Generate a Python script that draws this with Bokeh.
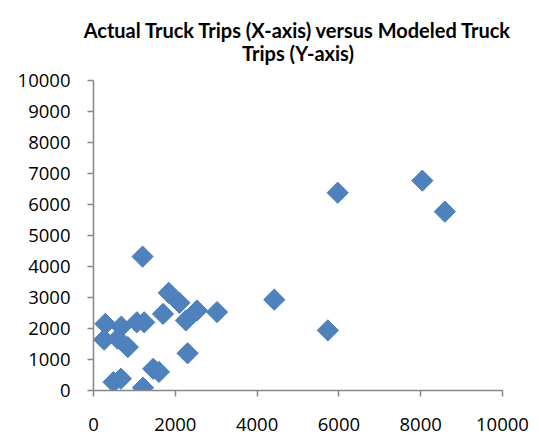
from bokeh.plotting import figure
from bokeh.models import FixedTicker, Range1d
from bokeh.embed import file_html
from bokeh.resources import INLINE
import math

actual_trips = [1200, 290, 260, 680, 590, 840, 1060, 1240, 1700, 1840, 2100, 2260,
                2300, 1460, 1600, 490, 670, 1210, 2530, 3020, 4420, 5730, 5970, 8040, 8590]
modeled_trips = [4320, 2150, 1640, 2060, 1670, 1400, 2200, 2200, 2470, 3150, 2830, 2260,
                 1200, 700, 600, 270, 380, 90, 2580, 2530, 2930, 1940, 6380, 6770, 5770]

tick_values = [0, 1000, 2000, 3000, 4000, 5000, 6000, 7000, 8000, 9000, 10000]
x_tick_values = [0, 2000, 4000, 6000, 8000, 10000]

title_text = "Actual Truck Trips (X-axis) versus Modeled Truck\nTrips (Y-axis)"

p = figure(output_backend="svg", toolbar_location=None,
           frame_width=409, frame_height=310,
           min_border_left=93, min_border_top=80, min_border_right=30, min_border_bottom=45,
           x_range=Range1d(0, 10000), y_range=Range1d(0, 10000),
           title=title_text)

p.title.align = "center"
p.title.text_align = "center"
p.title.vertical_align = "bottom"
p.title.text_font = "Lato"
p.title.text_font_style = "bold"
p.title.text_font_size = "20px"
p.title.text_color = "#000000"
p.title.text_line_height = 0.95
p.title.standoff = 31

xax = p.below[0]
yax = p.left[0]

p.scatter(actual_trips, modeled_trips, marker="square", size=15, angle=math.pi / 4,
          fill_color="#4F81BD", line_color="#4A7EBB", line_width=1)

p.outline_line_color = None
p.grid.visible = False
p.background_fill_color = "white"
p.border_fill_color = "white"

for ax in (xax, yax):
    ax.axis_line_color = "#868686"
    ax.axis_line_width = 1.5
    ax.major_tick_line_color = "#868686"
    ax.major_tick_line_width = 1.5
    ax.major_tick_in = 0
    ax.major_tick_out = 6
    ax.minor_tick_line_color = None
    ax.major_label_text_font = "Open Sans"
    ax.major_label_text_font_size = "18.5px"
    ax.major_label_text_color = "#000000"

xax.ticker = FixedTicker(ticks=x_tick_values)
yax.ticker = FixedTicker(ticks=tick_values)
xax.major_label_standoff = 21
yax.major_label_standoff = 17

open("out.html", "w").write(file_html(p, INLINE))
